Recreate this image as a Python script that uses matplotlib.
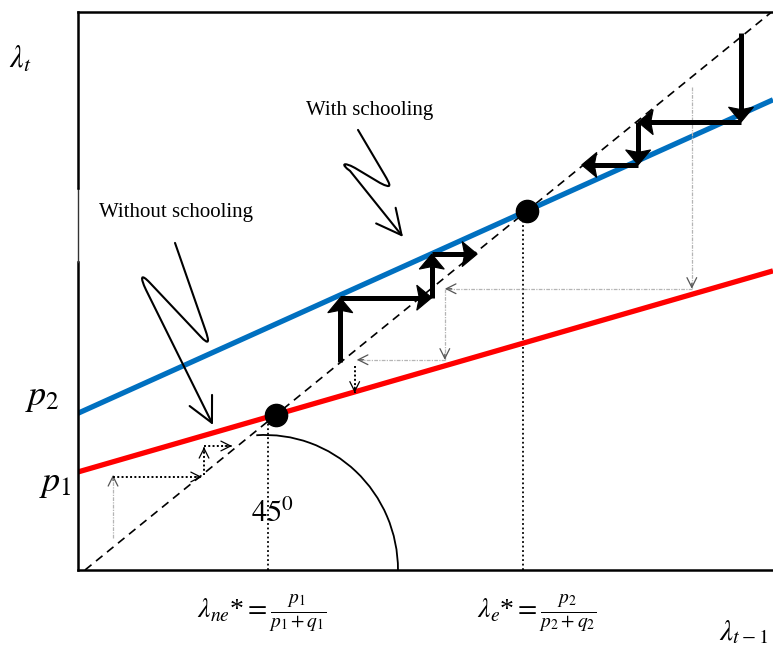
import numpy as np
import matplotlib
matplotlib.use("Agg")
import matplotlib.pyplot as plt
from matplotlib.patches import FancyArrowPatch, Arc, Polygon
from matplotlib.path import Path
from matplotlib.transforms import blended_transform_factory

plt.rcParams['font.family'] = ['Liberation Serif', 'DejaVu Serif']
plt.rcParams['mathtext.fontset'] = 'stix'

# ---- model: lambda_t = p + (1 - p - q) * lambda_{t-1} ----
p1, q1 = 0.179, 0.465   # without schooling (red)
p2, q2 = 0.286, 0.159   # with schooling (blue)
x_range = [-0.0102, 1.0]

# guide lines at the equilibria
eq_guide_x = [0.266, 0.637]
eq_guide_top = [0.281, 0.640]

# thick cobweb on the "with schooling" line (vertices)
up_x = [0.371, 0.371, 0.504, 0.504, 0.570]
up_y = [0.372, 0.487, 0.487, 0.565, 0.565]
down_x = [0.9535, 0.9535, 0.804, 0.804, 0.722]
down_y = [0.961, 0.801, 0.801, 0.7245, 0.7245]

# thin gray dotted cobweb (from above)
gray_hi_x = [0.882, 0.882, 0.523, 0.523, 0.395]
gray_hi_y = [0.864, 0.503, 0.503, 0.376, 0.376]
dot_hi_x = [0.392, 0.392]
dot_hi_y = [0.365, 0.317]

# lower-left cobweb on the "without schooling" line
gray_lo_x = [0.0407, 0.0407]
gray_lo_y = [0.057, 0.170]
dot_lo_segs = [(0.0407, 0.1664, 0.170, 0.1664),
               (0.173, 0.170, 0.173, 0.220),
               (0.173, 0.2218, 0.2137, 0.2218)]

# squiggly label pointers (Bezier control points, data units)
with_pts = [(0.3968, 0.7871), (0.4346, 0.7084),
            (0.4449, 0.6868), (0.4469, 0.6810), (0.4288, 0.6923),
            (0.3924, 0.7191),
            (0.3746, 0.7309), (0.3718, 0.7256), (0.3852, 0.7138),
            (0.4622, 0.5957)]
without_pts = [(0.1308, 0.5850), (0.1744, 0.4311),
               (0.1811, 0.4075), (0.1811, 0.4004), (0.1672, 0.4186),
               (0.0945, 0.5134),
               (0.0805, 0.5317), (0.0800, 0.5236), (0.0887, 0.5009),
               (0.1860, 0.2594)]
squiggle_codes = [Path.MOVETO, Path.LINETO,
                  Path.CURVE4, Path.CURVE4, Path.CURVE4,
                  Path.LINETO,
                  Path.CURVE4, Path.CURVE4, Path.CURVE4,
                  Path.LINETO]

# thinner stretch of the left axis line (y range)
thin_axis_span = [0.551, 0.683]

RED = '#ff0000'
BLUE = '#0070c0'
GRAY = '#b5b5b5'

fig = plt.figure(figsize=(7.73, 6.45), dpi=100)
ax = fig.add_axes([78 / 773, 75 / 645, 1 - 78 / 773, 558 / 645])
ax.set_xlim(x_range[0], 1.0)
ax.set_ylim(0, 0.998)
ax.set_autoscale_on(False)
ax.set_xticks([])
ax.set_yticks([])
ax.spines['right'].set_visible(False)
ax.spines['left'].set_visible(False)
for s in ['top', 'bottom']:
    ax.spines[s].set_linewidth(1.8)
ytr = blended_transform_factory(ax.transAxes, ax.transData)
ax.plot([0, 0], [0, thin_axis_span[0]], color='black', lw=1.8, transform=ytr,
        clip_on=False, solid_capstyle='projecting', zorder=7)
ax.plot([0, 0], thin_axis_span, color='#333333', lw=1.0, transform=ytr,
        clip_on=False, zorder=7)
ax.plot([0, 0], [thin_axis_span[1], 0.998], color='black', lw=1.8, transform=ytr,
        clip_on=False, solid_capstyle='projecting', zorder=7)

xr = np.array(x_range)
# 45 degree line
ax.plot([0, 1.02], [0, 1.02], color='black', lw=1.2, ls=(0, (5, 3.5)), zorder=2)
# transition lines
ax.plot(xr, p1 + (1 - p1 - q1) * xr, color=RED, lw=3.8, solid_capstyle='butt', zorder=3)
ax.plot(xr, p2 + (1 - p2 - q2) * xr, color=BLUE, lw=3.8, solid_capstyle='butt', zorder=3)

# equilibria
lam_ne = p1 / (p1 + q1)
lam_e = p2 / (p2 + q2)
ax.plot([lam_ne, lam_e], [lam_ne, lam_e], 'o', color='black', ms=16, zorder=6)
for gx, gt in zip(eq_guide_x, eq_guide_top):
    ax.plot([gx, gx], [0, gt], color='black', lw=1.3, ls=(0, (1, 1.5)), zorder=2)

# 45 degree arc
ax.add_patch(Arc((0.2616, 0), 0.3866, 0.483, theta1=0, theta2=93,
                 color='black', lw=1.3, zorder=2))
ax.text(0.273, 0.10, r'$45^0$', fontsize=22, ha='center', va='center')

# pixel -> data scale factors (axes is fixed, so these are constant)
PX_X = (1.0 - x_range[0]) / (fig.get_figwidth() * fig.dpi * (1 - 78 / 773))
PX_Y = 0.998 / (fig.get_figheight() * fig.dpi * 558 / 645)


def thick_arrow(x0, y0, x1, y1, L=15.0, W=12.5, N=12.5):
    # work in pixel units, then convert back to data units
    d = np.array([(x1 - x0) / PX_X, (y1 - y0) / PX_Y])
    u = d / np.hypot(*d)
    n = np.array([-u[1], u[0]])
    tip = np.array([x1 / PX_X, y1 / PX_Y])
    base = tip - N * u
    shaft_end = base + 1.0 * u
    ax.plot([x0, shaft_end[0] * PX_X], [y0, shaft_end[1] * PX_Y], color='black',
            lw=3.6, solid_capstyle='butt', zorder=5)
    head = np.array([tip, tip - L * u + W * n, base, tip - L * u - W * n])
    head[:, 0] *= PX_X
    head[:, 1] *= PX_Y
    ax.add_patch(Polygon(head, closed=True, facecolor='black', edgecolor='black',
                         lw=0.8, joinstyle='miter', zorder=5))


def thin_arrow(x0, y0, x1, y1, color, ls, lw):
    ax.plot([x0, x1], [y0, y1], color=color, ls=ls, lw=lw, zorder=4)
    d = np.array([x1 - x0, y1 - y0])
    d = d / np.hypot(*d)
    ax.annotate('', xy=(x1, y1), xytext=(x1 - 0.01 * d[0], y1 - 0.01 * d[1]),
                arrowprops=dict(arrowstyle='->,head_length=0.5,head_width=0.25',
                                color='black' if color != GRAY else '#555555',
                                lw=0.9, shrinkA=0, shrinkB=0,
                                mutation_scale=14), zorder=4)


for xs, ys in [(up_x, up_y), (down_x, down_y)]:
    for i in range(len(xs) - 1):
        thick_arrow(xs[i], ys[i], xs[i + 1], ys[i + 1])

for i in range(len(gray_hi_x) - 1):
    thin_arrow(gray_hi_x[i], gray_hi_y[i], gray_hi_x[i + 1], gray_hi_y[i + 1],
               GRAY, (0, (3, 1, 1, 1)), 0.9)
thin_arrow(dot_hi_x[0], dot_hi_y[0], dot_hi_x[1], dot_hi_y[1], 'black', (0, (1, 1.2)), 1.4)
thin_arrow(gray_lo_x[0], gray_lo_y[0], gray_lo_x[1], gray_lo_y[1],
           GRAY, (0, (3, 1, 1, 1)), 0.9)
for (a, b, c, d) in dot_lo_segs:
    thin_arrow(a, b, c, d, 'black', (0, (1, 1.2)), 1.4)

# squiggly pointers
for pts in [with_pts, without_pts]:
    ax.add_patch(FancyArrowPatch(path=Path(pts, squiggle_codes),
                                 arrowstyle='->,head_length=0.9,head_width=0.45',
                                 mutation_scale=20, lw=1.5, color='black', zorder=4))

ax.text(0.414, 0.821, 'With schooling', fontsize=15, ha='center', va='center')
ax.text(0.132, 0.639, 'Without schooling', fontsize=15, ha='center', va='center')

# axis labels (outside)
ax.text(-0.0945, 0.912, r'$\lambda_t$', fontsize=22, ha='center', va='center', clip_on=False)
ax.text(0.957, -0.111, r'$\lambda_{t-1}$', fontsize=21, ha='center', va='center', clip_on=False)
ax.text(-0.0625, 0.308, r'$p_2$', fontsize=26, ha='center', va='center', clip_on=False)
ax.text(-0.0436, 0.154, r'$p_1$', fontsize=26, ha='center', va='center', clip_on=False)
ax.text(0.257, -0.077, r'$\lambda_{ne}$*$=\frac{p_1}{p_1+q_1}$', fontsize=20,
        ha='center', va='center', clip_on=False)
ax.text(0.657, -0.077, r'$\lambda_{e}$*$=\frac{p_2}{p_2+q_2}$', fontsize=20,
        ha='center', va='center', clip_on=False)

fig.savefig('out.png', dpi=100)
